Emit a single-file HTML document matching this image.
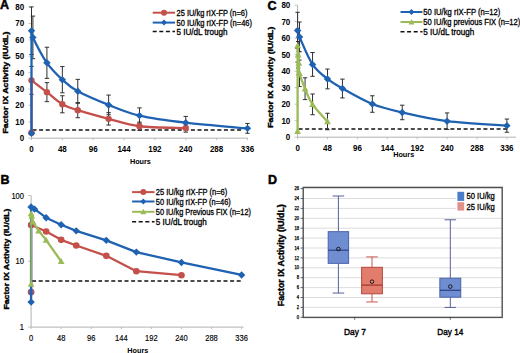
<!DOCTYPE html>
<html><head><meta charset="utf-8"><style>
html,body{margin:0;padding:0;background:#fff;width:520px;height:353px;overflow:hidden}
svg{display:block;font-family:"Liberation Sans", sans-serif}
</style></head><body>
<svg width="520" height="353" viewBox="0 0 520 353">
<rect width="520" height="353" fill="#fff"/>
<path d="M31.5,7.079999999999984 L31.5,138.2 L247.9472,138.2" stroke="#B3B3B3" stroke-width="1" fill="none"/>
<path d="M28.5,138.20 L31.5,138.20" stroke="#B3B3B3" stroke-width="0.8"/>
<text x="24.20" y="141.20" font-size="8.3" font-weight="bold" text-anchor="end" fill="#000" textLength="4.45" lengthAdjust="spacingAndGlyphs" >0</text>
<path d="M28.5,121.81 L31.5,121.81" stroke="#B3B3B3" stroke-width="0.8"/>
<text x="24.20" y="124.81" font-size="8.3" font-weight="bold" text-anchor="end" fill="#000" textLength="8.9" lengthAdjust="spacingAndGlyphs" >10</text>
<path d="M28.5,105.42 L31.5,105.42" stroke="#B3B3B3" stroke-width="0.8"/>
<text x="24.20" y="108.42" font-size="8.3" font-weight="bold" text-anchor="end" fill="#000" textLength="8.9" lengthAdjust="spacingAndGlyphs" >20</text>
<path d="M28.5,89.03 L31.5,89.03" stroke="#B3B3B3" stroke-width="0.8"/>
<text x="24.20" y="92.03" font-size="8.3" font-weight="bold" text-anchor="end" fill="#000" textLength="8.9" lengthAdjust="spacingAndGlyphs" >30</text>
<path d="M28.5,72.64 L31.5,72.64" stroke="#B3B3B3" stroke-width="0.8"/>
<text x="24.20" y="75.64" font-size="8.3" font-weight="bold" text-anchor="end" fill="#000" textLength="8.9" lengthAdjust="spacingAndGlyphs" >40</text>
<path d="M28.5,56.25 L31.5,56.25" stroke="#B3B3B3" stroke-width="0.8"/>
<text x="24.20" y="59.25" font-size="8.3" font-weight="bold" text-anchor="end" fill="#000" textLength="8.9" lengthAdjust="spacingAndGlyphs" >50</text>
<path d="M28.5,39.86 L31.5,39.86" stroke="#B3B3B3" stroke-width="0.8"/>
<text x="24.20" y="42.86" font-size="8.3" font-weight="bold" text-anchor="end" fill="#000" textLength="8.9" lengthAdjust="spacingAndGlyphs" >60</text>
<path d="M28.5,23.47 L31.5,23.47" stroke="#B3B3B3" stroke-width="0.8"/>
<text x="24.20" y="26.47" font-size="8.3" font-weight="bold" text-anchor="end" fill="#000" textLength="8.9" lengthAdjust="spacingAndGlyphs" >70</text>
<path d="M28.5,7.08 L31.5,7.08" stroke="#B3B3B3" stroke-width="0.8"/>
<text x="24.20" y="10.08" font-size="8.3" font-weight="bold" text-anchor="end" fill="#000" textLength="8.9" lengthAdjust="spacingAndGlyphs" >80</text>
<path d="M31.50,138.2 L31.50,140.2" stroke="#B3B3B3" stroke-width="0.8"/>
<text x="31.50" y="151.80" font-size="8.3" font-weight="bold" text-anchor="middle" fill="#000" textLength="4.45" lengthAdjust="spacingAndGlyphs" >0</text>
<path d="M62.35,138.2 L62.35,140.2" stroke="#B3B3B3" stroke-width="0.8"/>
<text x="62.35" y="151.80" font-size="8.3" font-weight="bold" text-anchor="middle" fill="#000" textLength="8.9" lengthAdjust="spacingAndGlyphs" >48</text>
<path d="M93.20,138.2 L93.20,140.2" stroke="#B3B3B3" stroke-width="0.8"/>
<text x="93.20" y="151.80" font-size="8.3" font-weight="bold" text-anchor="middle" fill="#000" textLength="8.9" lengthAdjust="spacingAndGlyphs" >96</text>
<path d="M124.05,138.2 L124.05,140.2" stroke="#B3B3B3" stroke-width="0.8"/>
<text x="124.05" y="151.80" font-size="8.3" font-weight="bold" text-anchor="middle" fill="#000" textLength="13.350000000000001" lengthAdjust="spacingAndGlyphs" >144</text>
<path d="M154.90,138.2 L154.90,140.2" stroke="#B3B3B3" stroke-width="0.8"/>
<text x="154.90" y="151.80" font-size="8.3" font-weight="bold" text-anchor="middle" fill="#000" textLength="13.350000000000001" lengthAdjust="spacingAndGlyphs" >192</text>
<path d="M185.75,138.2 L185.75,140.2" stroke="#B3B3B3" stroke-width="0.8"/>
<text x="185.75" y="151.80" font-size="8.3" font-weight="bold" text-anchor="middle" fill="#000" textLength="13.350000000000001" lengthAdjust="spacingAndGlyphs" >240</text>
<path d="M216.60,138.2 L216.60,140.2" stroke="#B3B3B3" stroke-width="0.8"/>
<text x="216.60" y="151.80" font-size="8.3" font-weight="bold" text-anchor="middle" fill="#000" textLength="13.350000000000001" lengthAdjust="spacingAndGlyphs" >288</text>
<path d="M247.45,138.2 L247.45,140.2" stroke="#B3B3B3" stroke-width="0.8"/>
<text x="247.45" y="151.80" font-size="8.3" font-weight="bold" text-anchor="middle" fill="#000" textLength="13.350000000000001" lengthAdjust="spacingAndGlyphs" >336</text>
<text x="140.40" y="164.20" font-size="7.9" font-weight="bold" text-anchor="middle" fill="#000" textLength="21" lengthAdjust="spacingAndGlyphs" >Hours</text>
<text x="8.50" y="82.60" font-size="8.0" font-weight="bold" text-anchor="middle" fill="#000" stroke="#000" stroke-width="0.4" textLength="102" lengthAdjust="spacingAndGlyphs" transform="rotate(-90 8.50 82.60)" >Factor IX Activity (IU/dL)</text>
<path d="M32.50,130.00 L242.45,130.00" stroke="#111" stroke-width="1.5" stroke-dasharray="4,2.6" fill="none"/>
<path d="M31.50,66.41 L31.50,94.27 M29.30,66.41 L33.70,66.41 M29.30,94.27 L33.70,94.27" stroke="#303030" stroke-width="1.0" fill="none"/>
<path d="M46.92,82.64 L46.92,101.65 M44.72,82.64 L49.12,82.64 M44.72,101.65 L49.12,101.65" stroke="#303030" stroke-width="1.0" fill="none"/>
<path d="M62.35,95.75 L62.35,112.80 M60.15,95.75 L64.55,95.75 M60.15,112.80 L64.55,112.80" stroke="#303030" stroke-width="1.0" fill="none"/>
<path d="M77.77,102.63 L77.77,117.71 M75.57,102.63 L79.97,102.63 M75.57,117.71 L79.97,117.71" stroke="#303030" stroke-width="1.0" fill="none"/>
<path d="M108.62,112.63 L108.62,125.09 M106.42,112.63 L110.82,112.63 M106.42,125.09 L110.82,125.09" stroke="#303030" stroke-width="1.0" fill="none"/>
<path d="M139.47,122.14 L139.47,130.33 M137.27,122.14 L141.67,122.14 M137.27,130.33 L141.67,130.33" stroke="#303030" stroke-width="1.0" fill="none"/>
<path d="M185.75,123.94 L185.75,132.14 M183.55,123.94 L187.95,123.94 M183.55,132.14 L187.95,132.14" stroke="#303030" stroke-width="1.0" fill="none"/>
<path d="M31.50,6.92 L31.50,54.45 M29.30,6.92 L33.70,6.92 M29.30,54.45 L33.70,54.45" stroke="#303030" stroke-width="1.0" fill="none"/>
<path d="M32.91,16.09 L32.91,58.71 M30.71,16.09 L35.11,16.09 M30.71,58.71 L35.11,58.71" stroke="#303030" stroke-width="1.0" fill="none"/>
<path d="M46.92,47.24 L46.92,78.38 M44.72,47.24 L49.12,47.24 M44.72,78.38 L49.12,78.38" stroke="#303030" stroke-width="1.0" fill="none"/>
<path d="M62.35,66.58 L62.35,92.80 M60.15,66.58 L64.55,66.58 M60.15,92.80 L64.55,92.80" stroke="#303030" stroke-width="1.0" fill="none"/>
<path d="M77.77,79.36 L77.77,103.29 M75.57,79.36 L79.97,79.36 M75.57,103.29 L79.97,103.29" stroke="#303030" stroke-width="1.0" fill="none"/>
<path d="M108.62,95.09 L108.62,114.76 M106.42,95.09 L110.82,95.09 M106.42,114.76 L110.82,114.76" stroke="#303030" stroke-width="1.0" fill="none"/>
<path d="M139.47,107.88 L139.47,123.29 M137.27,107.88 L141.67,107.88 M137.27,123.29 L141.67,123.29" stroke="#303030" stroke-width="1.0" fill="none"/>
<path d="M185.75,116.40 L185.75,128.86 M183.55,116.40 L187.95,116.40 M183.55,128.86 L187.95,128.86" stroke="#303030" stroke-width="1.0" fill="none"/>
<path d="M247.45,123.45 L247.45,133.28 M245.25,123.45 L249.65,123.45 M245.25,133.28 L249.65,133.28" stroke="#303030" stroke-width="1.0" fill="none"/>
<path d="M31.50,132.63 L31.50,80.34" stroke="#C4504B" stroke-width="2.3" fill="none"/>
<path d="M31.50,80.34 C34.07,82.31 41.78,88.16 46.92,92.14 C52.07,96.13 57.21,101.27 62.35,104.27 C67.49,107.28 70.06,107.74 77.77,110.17 C85.49,112.60 98.34,116.18 108.62,118.86 C118.91,121.54 126.62,124.71 139.47,126.24 C152.33,127.77 178.04,127.74 185.75,128.04" stroke="#C4504B" stroke-width="2.3" fill="none"/>
<circle cx="31.50" cy="132.63" r="3.2" fill="#C4504B"/>
<circle cx="31.50" cy="80.34" r="3.2" fill="#C4504B"/>
<circle cx="46.92" cy="92.14" r="3.2" fill="#C4504B"/>
<circle cx="62.35" cy="104.27" r="3.2" fill="#C4504B"/>
<circle cx="77.77" cy="110.17" r="3.2" fill="#C4504B"/>
<circle cx="108.62" cy="118.86" r="3.2" fill="#C4504B"/>
<circle cx="139.47" cy="126.24" r="3.2" fill="#C4504B"/>
<circle cx="185.75" cy="128.04" r="3.2" fill="#C4504B"/>
<path d="M31.50,133.28 L31.50,30.68" stroke="#1F62B2" stroke-width="2.3" fill="none"/>
<path d="M31.50,30.68 C31.74,31.80 30.34,32.05 32.91,37.40 C35.48,42.76 42.02,55.76 46.92,62.81 C51.83,69.85 57.21,74.93 62.35,79.69 C67.49,84.44 70.06,87.12 77.77,91.32 C85.49,95.53 98.34,100.89 108.62,104.93 C118.91,108.97 126.62,112.63 139.47,115.58 C152.33,118.53 167.75,120.50 185.75,122.63 C203.74,124.76 237.16,127.41 247.45,128.37" stroke="#1F62B2" stroke-width="2.3" fill="none"/>
<path d="M31.50,129.58 L35.20,133.28 L31.50,136.98 L27.80,133.28 Z" fill="#1F62B2"/>
<path d="M31.50,26.98 L35.20,30.68 L31.50,34.38 L27.80,30.68 Z" fill="#1F62B2"/>
<path d="M32.91,33.70 L36.61,37.40 L32.91,41.10 L29.21,37.40 Z" fill="#1F62B2"/>
<path d="M46.92,59.11 L50.62,62.81 L46.92,66.51 L43.22,62.81 Z" fill="#1F62B2"/>
<path d="M62.35,75.99 L66.05,79.69 L62.35,83.39 L58.65,79.69 Z" fill="#1F62B2"/>
<path d="M77.77,87.62 L81.47,91.32 L77.77,95.02 L74.07,91.32 Z" fill="#1F62B2"/>
<path d="M108.62,101.23 L112.32,104.93 L108.62,108.63 L104.92,104.93 Z" fill="#1F62B2"/>
<path d="M139.47,111.88 L143.17,115.58 L139.47,119.28 L135.77,115.58 Z" fill="#1F62B2"/>
<path d="M185.75,118.93 L189.45,122.63 L185.75,126.33 L182.05,122.63 Z" fill="#1F62B2"/>
<path d="M247.45,124.67 L251.15,128.37 L247.45,132.07 L243.75,128.37 Z" fill="#1F62B2"/>
<path d="M152.7,12.7 L175,12.7" stroke="#C4504B" stroke-width="2.0"/>
<circle cx="164.00" cy="12.70" r="3.0" fill="#C4504B"/>
<path d="M152.7,22.6 L175,22.6" stroke="#1F62B2" stroke-width="2.0"/>
<path d="M164.00,19.60 L167.00,22.60 L164.00,25.60 L161.00,22.60 Z" fill="#1F62B2"/>
<path d="M152.70,31.60 L175.00,31.60" stroke="#111" stroke-width="1.5" stroke-dasharray="4,2.6" fill="none"/>
<text x="176.50" y="15.70" font-size="8.4" font-weight="normal" text-anchor="start" fill="#000" stroke="#000" stroke-width="0.3" textLength="71" lengthAdjust="spacingAndGlyphs" >25 IU/kg rIX-FP (n=6)</text>
<text x="176.50" y="25.60" font-size="8.4" font-weight="normal" text-anchor="start" fill="#000" stroke="#000" stroke-width="0.3" textLength="75.5" lengthAdjust="spacingAndGlyphs" >50 IU/kg rIX-FP (n=46)</text>
<text x="176.50" y="34.60" font-size="8.4" font-weight="normal" text-anchor="start" fill="#000" stroke="#000" stroke-width="0.3" textLength="51" lengthAdjust="spacingAndGlyphs" >5 IU/dL trough</text>
<text x="0.00" y="8.70" font-size="12.5" font-weight="bold" text-anchor="start" fill="#000" stroke="#000" stroke-width="0.5" >A</text>
<path d="M31.1,195.50000000000003 L31.1,327.1 L243.60399999999998,327.1" stroke="#B3B3B3" stroke-width="1" fill="none"/>
<path d="M28.1,327.10 L31.1,327.10" stroke="#B3B3B3" stroke-width="0.8"/>
<text x="24.00" y="330.10" font-size="8.3" font-weight="normal" text-anchor="end" fill="#000" stroke="#000" stroke-width="0.15" textLength="4.2" lengthAdjust="spacingAndGlyphs" >1</text>
<path d="M28.1,261.30 L31.1,261.30" stroke="#B3B3B3" stroke-width="0.8"/>
<text x="24.00" y="264.30" font-size="8.3" font-weight="normal" text-anchor="end" fill="#000" stroke="#000" stroke-width="0.15" textLength="8.4" lengthAdjust="spacingAndGlyphs" >10</text>
<path d="M28.1,195.50 L31.1,195.50" stroke="#B3B3B3" stroke-width="0.8"/>
<text x="24.00" y="198.50" font-size="8.3" font-weight="normal" text-anchor="end" fill="#000" stroke="#000" stroke-width="0.15" textLength="12.600000000000001" lengthAdjust="spacingAndGlyphs" >100</text>
<path d="M31.10,327.1 L31.10,329.1" stroke="#B3B3B3" stroke-width="0.8"/>
<text x="31.10" y="341.00" font-size="8.3" font-weight="normal" text-anchor="middle" fill="#000" stroke="#000" stroke-width="0.15" textLength="4.2" lengthAdjust="spacingAndGlyphs" >0</text>
<path d="M61.17,327.1 L61.17,329.1" stroke="#B3B3B3" stroke-width="0.8"/>
<text x="61.17" y="341.00" font-size="8.3" font-weight="normal" text-anchor="middle" fill="#000" stroke="#000" stroke-width="0.15" textLength="8.4" lengthAdjust="spacingAndGlyphs" >48</text>
<path d="M91.24,327.1 L91.24,329.1" stroke="#B3B3B3" stroke-width="0.8"/>
<text x="91.24" y="341.00" font-size="8.3" font-weight="normal" text-anchor="middle" fill="#000" stroke="#000" stroke-width="0.15" textLength="8.4" lengthAdjust="spacingAndGlyphs" >96</text>
<path d="M121.32,327.1 L121.32,329.1" stroke="#B3B3B3" stroke-width="0.8"/>
<text x="121.32" y="341.00" font-size="8.3" font-weight="normal" text-anchor="middle" fill="#000" stroke="#000" stroke-width="0.15" textLength="12.600000000000001" lengthAdjust="spacingAndGlyphs" >144</text>
<path d="M151.39,327.1 L151.39,329.1" stroke="#B3B3B3" stroke-width="0.8"/>
<text x="151.39" y="341.00" font-size="8.3" font-weight="normal" text-anchor="middle" fill="#000" stroke="#000" stroke-width="0.15" textLength="12.600000000000001" lengthAdjust="spacingAndGlyphs" >192</text>
<path d="M181.46,327.1 L181.46,329.1" stroke="#B3B3B3" stroke-width="0.8"/>
<text x="181.46" y="341.00" font-size="8.3" font-weight="normal" text-anchor="middle" fill="#000" stroke="#000" stroke-width="0.15" textLength="12.600000000000001" lengthAdjust="spacingAndGlyphs" >240</text>
<path d="M211.53,327.1 L211.53,329.1" stroke="#B3B3B3" stroke-width="0.8"/>
<text x="211.53" y="341.00" font-size="8.3" font-weight="normal" text-anchor="middle" fill="#000" stroke="#000" stroke-width="0.15" textLength="12.600000000000001" lengthAdjust="spacingAndGlyphs" >288</text>
<path d="M241.60,327.1 L241.60,329.1" stroke="#B3B3B3" stroke-width="0.8"/>
<text x="241.60" y="341.00" font-size="8.3" font-weight="normal" text-anchor="middle" fill="#000" stroke="#000" stroke-width="0.15" textLength="12.600000000000001" lengthAdjust="spacingAndGlyphs" >336</text>
<text x="137.80" y="352.80" font-size="7.9" font-weight="bold" text-anchor="middle" fill="#000" textLength="21" lengthAdjust="spacingAndGlyphs" >Hours</text>
<text x="9.20" y="259.10" font-size="8.0" font-weight="bold" text-anchor="middle" fill="#000" stroke="#000" stroke-width="0.4" textLength="101" lengthAdjust="spacingAndGlyphs" transform="rotate(-90 9.20 259.10)" >Factor IX Activity (IU/dL)</text>
<path d="M32.10,281.11 L242.60,281.11" stroke="#111" stroke-width="1.5" stroke-dasharray="4,2.6" fill="none"/>
<path d="M31.10,292.13 L31.10,225.01 L46.14,231.57 L61.17,239.83 L76.21,245.47 L106.28,255.85 L136.35,271.21 L181.46,275.19" stroke="#C4504B" stroke-width="2.3" fill="none" stroke-linejoin="round"/>
<circle cx="31.10" cy="292.13" r="3.3" fill="#94587A"/>
<circle cx="31.10" cy="225.01" r="3.3" fill="#C4504B"/>
<circle cx="46.14" cy="231.57" r="3.3" fill="#C4504B"/>
<circle cx="61.17" cy="239.83" r="3.3" fill="#C4504B"/>
<circle cx="76.21" cy="245.47" r="3.3" fill="#C4504B"/>
<circle cx="106.28" cy="255.85" r="3.3" fill="#C4504B"/>
<circle cx="136.35" cy="271.21" r="3.3" fill="#C4504B"/>
<circle cx="181.46" cy="275.19" r="3.3" fill="#C4504B"/>
<path d="M31.10,302.08 L31.10,206.94 L34.61,209.16 L46.14,217.69 L61.17,224.70 L76.21,230.87 L106.28,240.37 L136.35,252.10 L181.46,262.47 L241.60,274.96" stroke="#1F62B2" stroke-width="2.3" fill="none" stroke-linejoin="round"/>
<path d="M31.10,298.38 L34.80,302.08 L31.10,305.78 L27.40,302.08 Z" fill="#1F62B2"/>
<path d="M31.10,203.24 L34.80,206.94 L31.10,210.64 L27.40,206.94 Z" fill="#1F62B2"/>
<path d="M34.61,205.46 L38.31,209.16 L34.61,212.86 L30.91,209.16 Z" fill="#1F62B2"/>
<path d="M46.14,213.99 L49.84,217.69 L46.14,221.39 L42.44,217.69 Z" fill="#1F62B2"/>
<path d="M61.17,221.00 L64.87,224.70 L61.17,228.40 L57.47,224.70 Z" fill="#1F62B2"/>
<path d="M76.21,227.17 L79.91,230.87 L76.21,234.57 L72.51,230.87 Z" fill="#1F62B2"/>
<path d="M106.28,236.67 L109.98,240.37 L106.28,244.07 L102.58,240.37 Z" fill="#1F62B2"/>
<path d="M136.35,248.40 L140.05,252.10 L136.35,255.80 L132.65,252.10 Z" fill="#1F62B2"/>
<path d="M181.46,258.77 L185.16,262.47 L181.46,266.17 L177.76,262.47 Z" fill="#1F62B2"/>
<path d="M241.60,271.26 L245.30,274.96 L241.60,278.66 L237.90,274.96 Z" fill="#1F62B2"/>
<path d="M31.10,284.12 L31.10,213.64" stroke="#9BBB59" stroke-width="1.5" fill="none"/>
<path d="M31.10,213.64 L31.73,215.89 L32.98,221.68 L38.62,230.87 L46.14,240.10 L61.17,261.30" stroke="#9BBB59" stroke-width="2.3" fill="none" stroke-linejoin="round"/>
<path d="M31.10,280.72 L34.50,286.84 L27.70,286.84 Z" fill="#9BBB59"/>
<path d="M31.10,210.24 L34.50,216.36 L27.70,216.36 Z" fill="#9BBB59"/>
<path d="M31.73,212.49 L35.13,218.61 L28.33,218.61 Z" fill="#9BBB59"/>
<path d="M32.98,218.28 L36.38,224.40 L29.58,224.40 Z" fill="#9BBB59"/>
<path d="M38.62,227.47 L42.02,233.59 L35.22,233.59 Z" fill="#9BBB59"/>
<path d="M46.14,236.70 L49.54,242.82 L42.74,242.82 Z" fill="#9BBB59"/>
<path d="M61.17,257.90 L64.57,264.02 L57.77,264.02 Z" fill="#9BBB59"/>
<path d="M132.1,192.1 L154.5,192.1" stroke="#C4504B" stroke-width="2.0"/>
<circle cx="143.30" cy="192.10" r="3.0" fill="#C4504B"/>
<path d="M132.1,201.5 L154.5,201.5" stroke="#1F62B2" stroke-width="2.0"/>
<path d="M143.30,198.50 L146.30,201.50 L143.30,204.50 L140.30,201.50 Z" fill="#1F62B2"/>
<path d="M132.1,211.8 L154.5,211.8" stroke="#9BBB59" stroke-width="2.0"/>
<path d="M143.30,208.80 L146.30,214.20 L140.30,214.20 Z" fill="#9BBB59"/>
<path d="M132.10,221.70 L154.50,221.70" stroke="#111" stroke-width="1.5" stroke-dasharray="4,2.6" fill="none"/>
<text x="155.80" y="195.10" font-size="8.4" font-weight="normal" text-anchor="start" fill="#000" stroke="#000" stroke-width="0.3" textLength="71.5" lengthAdjust="spacingAndGlyphs" >25 IU/kg rIX-FP (n=6)</text>
<text x="155.80" y="204.50" font-size="8.4" font-weight="normal" text-anchor="start" fill="#000" stroke="#000" stroke-width="0.3" textLength="75" lengthAdjust="spacingAndGlyphs" >50 IU/kg rIX-FP (n=46)</text>
<text x="155.80" y="214.80" font-size="8.4" font-weight="normal" text-anchor="start" fill="#000" stroke="#000" stroke-width="0.3" textLength="95.2" lengthAdjust="spacingAndGlyphs" >50 IU/kg Previous FIX (n=12)</text>
<text x="155.80" y="224.70" font-size="8.4" font-weight="normal" text-anchor="start" fill="#000" stroke="#000" stroke-width="0.3" textLength="51" lengthAdjust="spacingAndGlyphs" >5 IU/dL trough</text>
<text x="0.50" y="183.90" font-size="12.5" font-weight="bold" text-anchor="start" fill="#000" stroke="#000" stroke-width="0.5" >B</text>
<path d="M297.6,5.199999999999989 L297.6,137.2 L516,137.2" stroke="#B3B3B3" stroke-width="1" fill="none"/>
<path d="M294.6,137.20 L297.6,137.20" stroke="#B3B3B3" stroke-width="0.8"/>
<text x="290.30" y="140.20" font-size="8.3" font-weight="bold" text-anchor="end" fill="#000" textLength="4.45" lengthAdjust="spacingAndGlyphs" >0</text>
<path d="M294.6,120.70 L297.6,120.70" stroke="#B3B3B3" stroke-width="0.8"/>
<text x="290.30" y="123.70" font-size="8.3" font-weight="bold" text-anchor="end" fill="#000" textLength="8.9" lengthAdjust="spacingAndGlyphs" >10</text>
<path d="M294.6,104.20 L297.6,104.20" stroke="#B3B3B3" stroke-width="0.8"/>
<text x="290.30" y="107.20" font-size="8.3" font-weight="bold" text-anchor="end" fill="#000" textLength="8.9" lengthAdjust="spacingAndGlyphs" >20</text>
<path d="M294.6,87.70 L297.6,87.70" stroke="#B3B3B3" stroke-width="0.8"/>
<text x="290.30" y="90.70" font-size="8.3" font-weight="bold" text-anchor="end" fill="#000" textLength="8.9" lengthAdjust="spacingAndGlyphs" >30</text>
<path d="M294.6,71.20 L297.6,71.20" stroke="#B3B3B3" stroke-width="0.8"/>
<text x="290.30" y="74.20" font-size="8.3" font-weight="bold" text-anchor="end" fill="#000" textLength="8.9" lengthAdjust="spacingAndGlyphs" >40</text>
<path d="M294.6,54.70 L297.6,54.70" stroke="#B3B3B3" stroke-width="0.8"/>
<text x="290.30" y="57.70" font-size="8.3" font-weight="bold" text-anchor="end" fill="#000" textLength="8.9" lengthAdjust="spacingAndGlyphs" >50</text>
<path d="M294.6,38.20 L297.6,38.20" stroke="#B3B3B3" stroke-width="0.8"/>
<text x="290.30" y="41.20" font-size="8.3" font-weight="bold" text-anchor="end" fill="#000" textLength="8.9" lengthAdjust="spacingAndGlyphs" >60</text>
<path d="M294.6,21.70 L297.6,21.70" stroke="#B3B3B3" stroke-width="0.8"/>
<text x="290.30" y="24.70" font-size="8.3" font-weight="bold" text-anchor="end" fill="#000" textLength="8.9" lengthAdjust="spacingAndGlyphs" >70</text>
<path d="M294.6,5.20 L297.6,5.20" stroke="#B3B3B3" stroke-width="0.8"/>
<text x="290.30" y="8.20" font-size="8.3" font-weight="bold" text-anchor="end" fill="#000" textLength="8.9" lengthAdjust="spacingAndGlyphs" >80</text>
<path d="M297.60,137.2 L297.60,139.2" stroke="#B3B3B3" stroke-width="0.8"/>
<text x="297.60" y="151.00" font-size="8.3" font-weight="bold" text-anchor="middle" fill="#000" textLength="4.45" lengthAdjust="spacingAndGlyphs" >0</text>
<path d="M327.50,137.2 L327.50,139.2" stroke="#B3B3B3" stroke-width="0.8"/>
<text x="327.50" y="151.00" font-size="8.3" font-weight="bold" text-anchor="middle" fill="#000" textLength="8.9" lengthAdjust="spacingAndGlyphs" >48</text>
<path d="M357.40,137.2 L357.40,139.2" stroke="#B3B3B3" stroke-width="0.8"/>
<text x="357.40" y="151.00" font-size="8.3" font-weight="bold" text-anchor="middle" fill="#000" textLength="8.9" lengthAdjust="spacingAndGlyphs" >96</text>
<path d="M387.30,137.2 L387.30,139.2" stroke="#B3B3B3" stroke-width="0.8"/>
<text x="387.30" y="151.00" font-size="8.3" font-weight="bold" text-anchor="middle" fill="#000" textLength="13.350000000000001" lengthAdjust="spacingAndGlyphs" >144</text>
<path d="M417.20,137.2 L417.20,139.2" stroke="#B3B3B3" stroke-width="0.8"/>
<text x="417.20" y="151.00" font-size="8.3" font-weight="bold" text-anchor="middle" fill="#000" textLength="13.350000000000001" lengthAdjust="spacingAndGlyphs" >192</text>
<path d="M447.10,137.2 L447.10,139.2" stroke="#B3B3B3" stroke-width="0.8"/>
<text x="447.10" y="151.00" font-size="8.3" font-weight="bold" text-anchor="middle" fill="#000" textLength="13.350000000000001" lengthAdjust="spacingAndGlyphs" >240</text>
<path d="M477.00,137.2 L477.00,139.2" stroke="#B3B3B3" stroke-width="0.8"/>
<text x="477.00" y="151.00" font-size="8.3" font-weight="bold" text-anchor="middle" fill="#000" textLength="13.350000000000001" lengthAdjust="spacingAndGlyphs" >288</text>
<path d="M506.89,137.2 L506.89,139.2" stroke="#B3B3B3" stroke-width="0.8"/>
<text x="506.89" y="151.00" font-size="8.3" font-weight="bold" text-anchor="middle" fill="#000" textLength="13.350000000000001" lengthAdjust="spacingAndGlyphs" >336</text>
<text x="403.70" y="157.30" font-size="7.9" font-weight="bold" text-anchor="middle" fill="#000" textLength="21" lengthAdjust="spacingAndGlyphs" >Hours</text>
<text x="273.10" y="77.20" font-size="8.0" font-weight="bold" text-anchor="middle" fill="#000" stroke="#000" stroke-width="0.4" textLength="101" lengthAdjust="spacingAndGlyphs" transform="rotate(-90 273.10 77.20)" >Factor IX Activity (IU/dL)</text>
<path d="M298.60,128.95 L507.89,128.95" stroke="#111" stroke-width="1.5" stroke-dasharray="4,2.6" fill="none"/>
<path d="M297.60,12.29 L297.60,48.59 M295.40,12.29 L299.80,12.29 M295.40,48.59 L299.80,48.59" stroke="#303030" stroke-width="1.0" fill="none"/>
<path d="M299.53,22.03 L299.53,51.73 M297.33,22.03 L301.73,22.03 M297.33,51.73 L301.73,51.73" stroke="#303030" stroke-width="1.0" fill="none"/>
<path d="M312.55,52.55 L312.55,76.31 M310.35,52.55 L314.75,52.55 M310.35,76.31 L314.75,76.31" stroke="#303030" stroke-width="1.0" fill="none"/>
<path d="M327.50,69.05 L327.50,88.85 M325.30,69.05 L329.70,69.05 M325.30,88.85 L329.70,88.85" stroke="#303030" stroke-width="1.0" fill="none"/>
<path d="M342.45,79.12 L342.45,97.93 M340.25,79.12 L344.65,79.12 M340.25,97.93 L344.65,97.93" stroke="#303030" stroke-width="1.0" fill="none"/>
<path d="M372.35,95.78 L372.35,112.28 M370.15,95.78 L374.55,95.78 M370.15,112.28 L374.55,112.28" stroke="#303030" stroke-width="1.0" fill="none"/>
<path d="M402.25,105.19 L402.25,119.71 M400.05,105.19 L404.45,105.19 M400.05,119.71 L404.45,119.71" stroke="#303030" stroke-width="1.0" fill="none"/>
<path d="M447.10,112.94 L447.10,129.44 M444.90,112.94 L449.30,112.94 M444.90,129.44 L449.30,129.44" stroke="#303030" stroke-width="1.0" fill="none"/>
<path d="M506.89,119.05 L506.89,132.25 M504.69,119.05 L509.09,119.05 M504.69,132.25 L509.09,132.25" stroke="#303030" stroke-width="1.0" fill="none"/>
<path d="M297.60,29.12 L297.60,62.12 M295.40,29.12 L299.80,29.12 M295.40,62.12 L299.80,62.12" stroke="#303030" stroke-width="1.0" fill="none"/>
<path d="M298.22,41.50 L298.22,67.90 M296.02,41.50 L300.42,41.50 M296.02,67.90 L300.42,67.90" stroke="#303030" stroke-width="1.0" fill="none"/>
<path d="M298.85,51.40 L298.85,74.50 M296.65,51.40 L301.05,51.40 M296.65,74.50 L301.05,74.50" stroke="#303030" stroke-width="1.0" fill="none"/>
<path d="M299.47,60.14 L299.47,86.54 M297.27,60.14 L301.67,60.14 M297.27,86.54 L301.67,86.54" stroke="#303030" stroke-width="1.0" fill="none"/>
<path d="M305.07,77.80 L305.07,99.58 M302.87,77.80 L307.27,77.80 M302.87,99.58 L307.27,99.58" stroke="#303030" stroke-width="1.0" fill="none"/>
<path d="M312.55,93.97 L312.55,114.76 M310.35,93.97 L314.75,93.97 M310.35,114.76 L314.75,114.76" stroke="#303030" stroke-width="1.0" fill="none"/>
<path d="M327.50,113.27 L327.50,129.77 M325.30,113.27 L329.70,113.27 M325.30,129.77 L329.70,129.77" stroke="#303030" stroke-width="1.0" fill="none"/>
<path d="M297.60,30.44 C297.92,31.52 297.04,31.21 299.53,36.88 C302.02,42.54 307.89,57.42 312.55,64.43 C317.21,71.45 322.52,74.94 327.50,78.95 C332.48,82.97 334.97,84.34 342.45,88.52 C349.92,92.70 362.38,100.05 372.35,104.03 C382.31,108.02 389.79,109.59 402.25,112.45 C414.71,115.31 429.65,118.99 447.10,121.19 C464.54,123.39 496.93,124.91 506.89,125.65" stroke="#1F62B2" stroke-width="2.3" fill="none"/>
<path d="M297.60,26.74 L301.30,30.44 L297.60,34.14 L293.90,30.44 Z" fill="#1F62B2"/>
<path d="M299.53,33.18 L303.23,36.88 L299.53,40.58 L295.83,36.88 Z" fill="#1F62B2"/>
<path d="M312.55,60.73 L316.25,64.43 L312.55,68.13 L308.85,64.43 Z" fill="#1F62B2"/>
<path d="M327.50,75.25 L331.20,78.95 L327.50,82.66 L323.80,78.95 Z" fill="#1F62B2"/>
<path d="M342.45,84.82 L346.15,88.52 L342.45,92.22 L338.75,88.52 Z" fill="#1F62B2"/>
<path d="M372.35,100.33 L376.05,104.03 L372.35,107.73 L368.65,104.03 Z" fill="#1F62B2"/>
<path d="M402.25,108.75 L405.95,112.45 L402.25,116.15 L398.55,112.45 Z" fill="#1F62B2"/>
<path d="M447.10,117.49 L450.80,121.19 L447.10,124.89 L443.40,121.19 Z" fill="#1F62B2"/>
<path d="M506.89,121.95 L510.59,125.65 L506.89,129.35 L503.19,125.65 Z" fill="#1F62B2"/>
<path d="M297.60,131.26 L297.60,45.62" stroke="#9BBB59" stroke-width="2.3" fill="none"/>
<path d="M297.60,45.62 C297.70,47.14 298.02,51.81 298.22,54.70 C298.43,57.59 298.64,59.84 298.85,62.95 C299.05,66.06 298.43,69.05 299.47,73.34 C300.51,77.63 302.89,83.52 305.07,88.69 C307.25,93.86 308.81,98.89 312.55,104.36 C316.29,109.84 325.01,118.66 327.50,121.52" stroke="#9BBB59" stroke-width="2.3" fill="none"/>
<path d="M297.60,127.86 L301.00,133.98 L294.20,133.98 Z" fill="#9BBB59"/>
<path d="M297.60,42.23 L301.00,48.34 L294.20,48.34 Z" fill="#9BBB59"/>
<path d="M298.22,51.30 L301.62,57.42 L294.82,57.42 Z" fill="#9BBB59"/>
<path d="M298.85,59.55 L302.25,65.67 L295.45,65.67 Z" fill="#9BBB59"/>
<path d="M299.47,69.94 L302.87,76.06 L296.07,76.06 Z" fill="#9BBB59"/>
<path d="M305.07,85.29 L308.47,91.41 L301.67,91.41 Z" fill="#9BBB59"/>
<path d="M312.55,100.96 L315.95,107.08 L309.15,107.08 Z" fill="#9BBB59"/>
<path d="M327.50,118.12 L330.90,124.24 L324.10,124.24 Z" fill="#9BBB59"/>
<path d="M400.5,12 L422.5,12" stroke="#1F62B2" stroke-width="2.0"/>
<path d="M411.50,9.00 L414.50,12.00 L411.50,15.00 L408.50,12.00 Z" fill="#1F62B2"/>
<path d="M400.5,22 L422.5,22" stroke="#9BBB59" stroke-width="2.0"/>
<path d="M411.50,19.00 L414.50,24.40 L408.50,24.40 Z" fill="#9BBB59"/>
<path d="M400.50,31.75 L422.50,31.75" stroke="#111" stroke-width="1.5" stroke-dasharray="4,2.6" fill="none"/>
<text x="423.30" y="15.00" font-size="8.4" font-weight="normal" text-anchor="start" fill="#000" stroke="#000" stroke-width="0.3" textLength="77" lengthAdjust="spacingAndGlyphs" >50 IU/kg rIX-FP (n=12)</text>
<text x="423.30" y="25.00" font-size="8.4" font-weight="normal" text-anchor="start" fill="#000" stroke="#000" stroke-width="0.3" textLength="97" lengthAdjust="spacingAndGlyphs" >50 IU/kg previous FIX (n=12)</text>
<text x="423.30" y="34.75" font-size="8.4" font-weight="normal" text-anchor="start" fill="#000" stroke="#000" stroke-width="0.3" textLength="51" lengthAdjust="spacingAndGlyphs" >5 IU/dL trough</text>
<text x="267.50" y="9.60" font-size="12.5" font-weight="bold" text-anchor="start" fill="#000" stroke="#000" stroke-width="0.5" >C</text>
<path d="M303.2,307.40 L502.2,307.40" stroke="#D4D4D4" stroke-width="0.8"/>
<path d="M303.2,297.50 L502.2,297.50" stroke="#D4D4D4" stroke-width="0.8"/>
<path d="M303.2,287.60 L502.2,287.60" stroke="#D4D4D4" stroke-width="0.8"/>
<path d="M303.2,277.70 L502.2,277.70" stroke="#D4D4D4" stroke-width="0.8"/>
<path d="M303.2,267.80 L502.2,267.80" stroke="#D4D4D4" stroke-width="0.8"/>
<path d="M303.2,257.90 L502.2,257.90" stroke="#D4D4D4" stroke-width="0.8"/>
<path d="M303.2,248.00 L502.2,248.00" stroke="#D4D4D4" stroke-width="0.8"/>
<path d="M303.2,238.10 L502.2,238.10" stroke="#D4D4D4" stroke-width="0.8"/>
<path d="M303.2,228.20 L502.2,228.20" stroke="#D4D4D4" stroke-width="0.8"/>
<path d="M303.2,218.30 L502.2,218.30" stroke="#D4D4D4" stroke-width="0.8"/>
<path d="M303.2,208.40 L502.2,208.40" stroke="#D4D4D4" stroke-width="0.8"/>
<path d="M303.2,198.50 L502.2,198.50" stroke="#D4D4D4" stroke-width="0.8"/>
<path d="M303.2,188.60 L502.2,188.60" stroke="#D4D4D4" stroke-width="0.8"/>
<rect x="456" y="189" width="45" height="23" fill="#fff"/>
<rect x="303.2" y="187.4" width="199.0" height="129.99999999999997" fill="none" stroke="#505050" stroke-width="1.4"/>
<path d="M300.59999999999997,317.30 L303.2,317.30" stroke="#505050" stroke-width="0.9"/>
<text x="299.00" y="318.90" font-size="4.6" font-weight="normal" text-anchor="end" fill="#000" stroke="#000" stroke-width="0.25" textLength="2.3" lengthAdjust="spacingAndGlyphs" >0</text>
<path d="M300.59999999999997,307.40 L303.2,307.40" stroke="#505050" stroke-width="0.9"/>
<text x="299.00" y="309.00" font-size="4.6" font-weight="normal" text-anchor="end" fill="#000" stroke="#000" stroke-width="0.25" textLength="2.3" lengthAdjust="spacingAndGlyphs" >2</text>
<path d="M300.59999999999997,297.50 L303.2,297.50" stroke="#505050" stroke-width="0.9"/>
<text x="299.00" y="299.10" font-size="4.6" font-weight="normal" text-anchor="end" fill="#000" stroke="#000" stroke-width="0.25" textLength="2.3" lengthAdjust="spacingAndGlyphs" >4</text>
<path d="M300.59999999999997,287.60 L303.2,287.60" stroke="#505050" stroke-width="0.9"/>
<text x="299.00" y="289.20" font-size="4.6" font-weight="normal" text-anchor="end" fill="#000" stroke="#000" stroke-width="0.25" textLength="2.3" lengthAdjust="spacingAndGlyphs" >6</text>
<path d="M300.59999999999997,277.70 L303.2,277.70" stroke="#505050" stroke-width="0.9"/>
<text x="299.00" y="279.30" font-size="4.6" font-weight="normal" text-anchor="end" fill="#000" stroke="#000" stroke-width="0.25" textLength="2.3" lengthAdjust="spacingAndGlyphs" >8</text>
<path d="M300.59999999999997,267.80 L303.2,267.80" stroke="#505050" stroke-width="0.9"/>
<text x="299.00" y="269.40" font-size="4.6" font-weight="normal" text-anchor="end" fill="#000" stroke="#000" stroke-width="0.25" textLength="4.6" lengthAdjust="spacingAndGlyphs" >10</text>
<path d="M300.59999999999997,257.90 L303.2,257.90" stroke="#505050" stroke-width="0.9"/>
<text x="299.00" y="259.50" font-size="4.6" font-weight="normal" text-anchor="end" fill="#000" stroke="#000" stroke-width="0.25" textLength="4.6" lengthAdjust="spacingAndGlyphs" >12</text>
<path d="M300.59999999999997,248.00 L303.2,248.00" stroke="#505050" stroke-width="0.9"/>
<text x="299.00" y="249.60" font-size="4.6" font-weight="normal" text-anchor="end" fill="#000" stroke="#000" stroke-width="0.25" textLength="4.6" lengthAdjust="spacingAndGlyphs" >14</text>
<path d="M300.59999999999997,238.10 L303.2,238.10" stroke="#505050" stroke-width="0.9"/>
<text x="299.00" y="239.70" font-size="4.6" font-weight="normal" text-anchor="end" fill="#000" stroke="#000" stroke-width="0.25" textLength="4.6" lengthAdjust="spacingAndGlyphs" >16</text>
<path d="M300.59999999999997,228.20 L303.2,228.20" stroke="#505050" stroke-width="0.9"/>
<text x="299.00" y="229.80" font-size="4.6" font-weight="normal" text-anchor="end" fill="#000" stroke="#000" stroke-width="0.25" textLength="4.6" lengthAdjust="spacingAndGlyphs" >18</text>
<path d="M300.59999999999997,218.30 L303.2,218.30" stroke="#505050" stroke-width="0.9"/>
<text x="299.00" y="219.90" font-size="4.6" font-weight="normal" text-anchor="end" fill="#000" stroke="#000" stroke-width="0.25" textLength="4.6" lengthAdjust="spacingAndGlyphs" >20</text>
<path d="M300.59999999999997,208.40 L303.2,208.40" stroke="#505050" stroke-width="0.9"/>
<text x="299.00" y="210.00" font-size="4.6" font-weight="normal" text-anchor="end" fill="#000" stroke="#000" stroke-width="0.25" textLength="4.6" lengthAdjust="spacingAndGlyphs" >22</text>
<path d="M300.59999999999997,198.50 L303.2,198.50" stroke="#505050" stroke-width="0.9"/>
<text x="299.00" y="200.10" font-size="4.6" font-weight="normal" text-anchor="end" fill="#000" stroke="#000" stroke-width="0.25" textLength="4.6" lengthAdjust="spacingAndGlyphs" >24</text>
<path d="M300.59999999999997,188.60 L303.2,188.60" stroke="#505050" stroke-width="0.9"/>
<text x="299.00" y="190.20" font-size="4.6" font-weight="normal" text-anchor="end" fill="#000" stroke="#000" stroke-width="0.25" textLength="4.6" lengthAdjust="spacingAndGlyphs" >26</text>
<path d="M354.7,317.4 L354.7,319.9" stroke="#3A3A3A" stroke-width="0.7"/>
<path d="M450.3,317.4 L450.3,319.9" stroke="#3A3A3A" stroke-width="0.7"/>
<path d="M338.40,196.03 L338.40,231.67 M338.40,263.35 L338.40,293.05 M332.60,196.03 L344.20,196.03 M332.60,293.05 L344.20,293.05" stroke="#5A5E96" stroke-width="1" fill="none"/>
<rect x="328.20" y="231.67" width="20.4" height="31.68" fill="#6F8ED2" stroke="#4A62A8" stroke-width="1"/>
<path d="M328.20,250.23 L348.60,250.23" stroke="#33458A" stroke-width="1.3"/>
<circle cx="338.40" cy="248.99" r="1.8" fill="none" stroke="#111" stroke-width="0.9"/>
<path d="M372.00,256.91 L372.00,267.31 M372.00,293.79 L372.00,301.95 M366.20,256.91 L377.80,256.91 M366.20,301.95 L377.80,301.95" stroke="#C9574C" stroke-width="1" fill="none"/>
<rect x="361.65" y="267.31" width="20.7" height="26.48" fill="#E27D6E" stroke="#B5443A" stroke-width="1"/>
<path d="M361.65,285.12 L382.35,285.12" stroke="#A8392E" stroke-width="1.3"/>
<circle cx="372.00" cy="281.66" r="1.8" fill="none" stroke="#111" stroke-width="0.9"/>
<path d="M450.30,219.79 L450.30,278.19 M450.30,297.20 L450.30,307.40 M444.50,219.79 L456.10,219.79 M444.50,307.40 L456.10,307.40" stroke="#5A5E96" stroke-width="1" fill="none"/>
<rect x="439.85" y="278.19" width="20.9" height="19.01" fill="#6F8ED2" stroke="#4A62A8" stroke-width="1"/>
<path d="M439.85,290.32 L460.75,290.32" stroke="#33458A" stroke-width="1.3"/>
<circle cx="450.30" cy="286.61" r="1.8" fill="none" stroke="#111" stroke-width="0.9"/>
<rect x="457.4" y="191.8" width="6.8" height="9.1" fill="#4A7CC8"/>
<rect x="457.4" y="202.2" width="6.8" height="8.4" fill="#E2908A"/>
<text x="466.50" y="199.30" font-size="8.4" font-weight="normal" text-anchor="start" fill="#000" stroke="#000" stroke-width="0.3" textLength="28.3" lengthAdjust="spacingAndGlyphs" >50 IU/kg</text>
<text x="466.50" y="209.50" font-size="8.4" font-weight="normal" text-anchor="start" fill="#000" stroke="#000" stroke-width="0.3" textLength="28.3" lengthAdjust="spacingAndGlyphs" >25 IU/kg</text>
<text x="355.00" y="334.50" font-size="9.0" font-weight="normal" text-anchor="middle" fill="#000" stroke="#000" stroke-width="0.4" textLength="22" lengthAdjust="spacingAndGlyphs" >Day 7</text>
<text x="450.30" y="335.00" font-size="9.0" font-weight="normal" text-anchor="middle" fill="#000" stroke="#000" stroke-width="0.4" textLength="26" lengthAdjust="spacingAndGlyphs" >Day 14</text>
<text x="283.60" y="255.20" font-size="8.4" font-weight="bold" text-anchor="middle" fill="#000" stroke="#000" stroke-width="0.4" textLength="102" lengthAdjust="spacingAndGlyphs" transform="rotate(-90 283.60 255.20)" >Factor IX Activity (IU/dL)</text>
<text x="268.10" y="183.90" font-size="12.5" font-weight="bold" text-anchor="start" fill="#000" stroke="#000" stroke-width="0.5" >D</text>
</svg></body></html>
